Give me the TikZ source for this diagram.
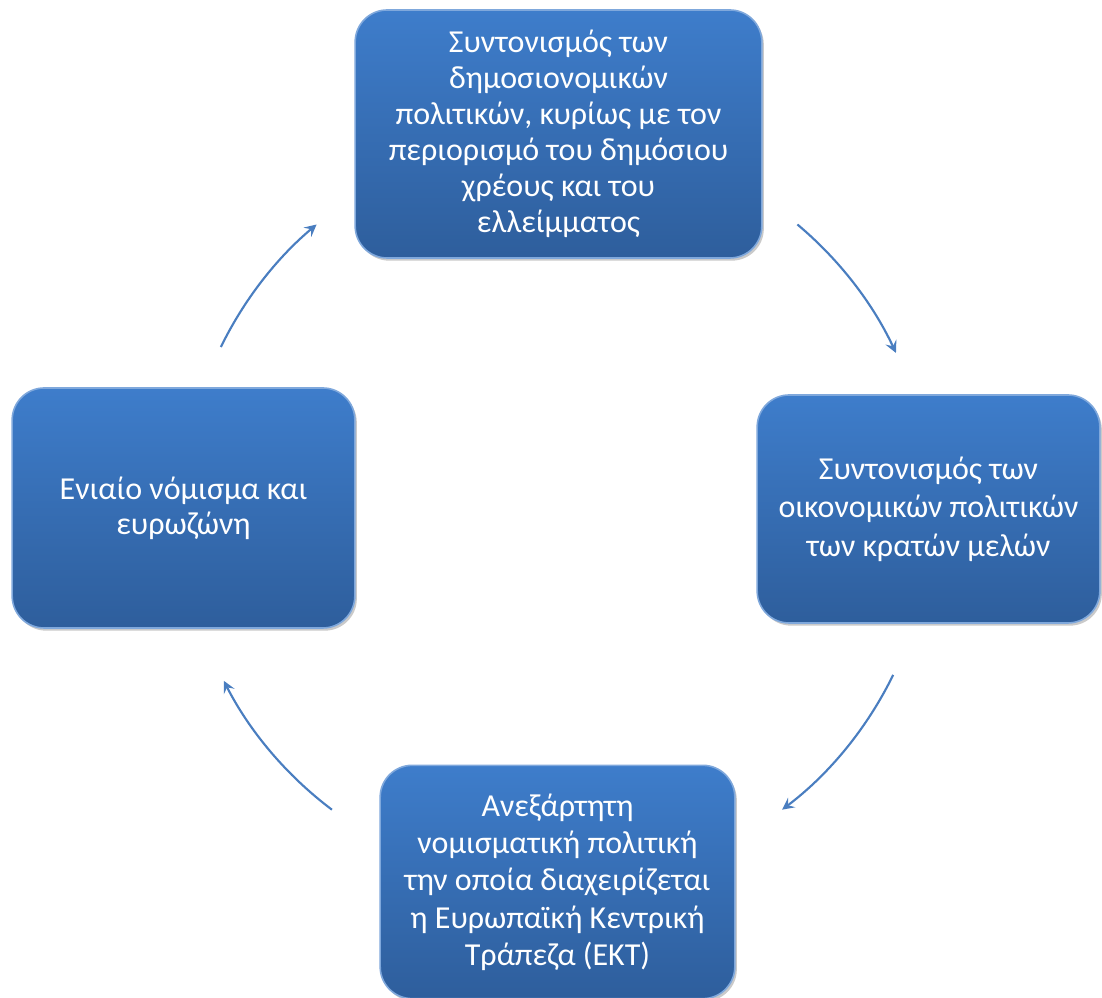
\documentclass[tikz,border=0pt]{standalone}
\usepackage{fontspec}
\setmainfont{Carlito}
\usetikzlibrary{arrows.meta,shadows}
\definecolor{boxtop}{HTML}{3E7DCB}
\definecolor{boxbot}{HTML}{2E5E9C}
\definecolor{boxedge}{HTML}{7FA8DC}
\definecolor{arrcol}{HTML}{4A7EC0}
\tikzset{
  cbox/.style={rounded corners=24pt, top color=boxtop, bottom color=boxbot,
    draw=boxedge, line width=1.2pt, text=white, align=center,
    inner sep=0pt,
    drop shadow={shadow xshift=1.5pt, shadow yshift=-2pt, opacity=0.35, fill=black!60}},
  arr/.style={draw=arrcol, line width=1.6pt, -{Stealth[length=9pt,width=9pt,inset=3.5pt]}}
}
\begin{document}
\begin{tikzpicture}[x=0.75pt,y=0.75pt]
\useasboundingbox (0,0) rectangle (1102,998);
\node[cbox, minimum width=305pt, minimum height=186pt, font=\fontsize{24}{27}\selectfont] (top) at (558.5,864)
  {Συντονισμός των\\δημοσιονομικών\\πολιτικών, κυρίως με τον\\περιορισμό του δημόσιου\\χρέους και του\\ελλείμματος};
\node[cbox, minimum width=257pt, minimum height=171pt, font=\fontsize{24}{29}\selectfont] (right) at (928.5,489)
  {Συντονισμός των\\οικονομικών πολιτικών\\των κρατών μελών};
\node[cbox, minimum width=257pt, minimum height=180pt, font=\fontsize{24}{26.5}\selectfont] (left) at (183.5,490)
  {Ενιαίο νόμισμα και\\ευρωζώνη};
\node[cbox, minimum width=266pt, minimum height=175pt, font=\fontsize{24}{28}\selectfont] (bottom) at (557.5,116)
  {Ανεξάρτητη\\νομισματική πολιτική\\την οποία διαχειρίζεται\\η Ευρωπαϊκή Κεντρική\\Τράπεζα (ΕΚΤ)};
\coordinate (c) at (557,487);
\coordinate (s1) at ([shift={(50:280.5pt)}]c);
\coordinate (s2) at ([shift={(-26:280.5pt)}]c);
\coordinate (s3) at ([shift={(-127:280.5pt)}]c);
\coordinate (s4) at ([shift={(154:280.5pt)}]c);
\draw[arr] (s1) arc[start angle=50, end angle=25, radius=280.5pt];
\draw[arr] (s2) arc[start angle=-26, end angle=-53, radius=280.5pt];
\draw[arr] (s3) arc[start angle=-127, end angle=-153, radius=280.5pt];
\draw[arr] (s4) arc[start angle=154, end angle=130, radius=280.5pt];
\end{tikzpicture}
\end{document}
